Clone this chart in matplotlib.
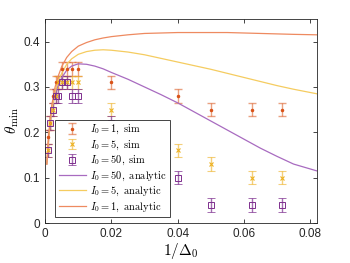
import numpy as np
import matplotlib as mpl
mpl.use('Agg')
import matplotlib.pyplot as plt

# simulation points, x = 1/Delta_0
x_sim = [0.001, 0.0015, 0.0025, 0.0033, 0.004, 0.005, 0.0067, 0.008, 0.01,
         0.02, 0.04, 0.05, 0.0625, 0.0714]
sim_i1 = [0.19, 0.22, 0.28, 0.31, 0.31, 0.34, 0.34, 0.34, 0.34,
          0.31, 0.28, 0.25, 0.25, 0.25]
sim_i5 = [0.16, 0.22, 0.25, 0.28, 0.31, 0.31, 0.31, 0.31, 0.31,
          0.25, 0.16, 0.13, 0.10, 0.10]
sim_i50 = [0.16, 0.22, 0.25, 0.28, 0.28, 0.31, 0.31, 0.28, 0.28,
           0.22, 0.10, 0.04, 0.04, 0.04]
sim_err = 0.015

# analytic curves
x_an = [0.0005, 0.001, 0.0015, 0.002, 0.003, 0.004, 0.005, 0.0065, 0.008, 0.01,
        0.0125, 0.015, 0.0175, 0.02, 0.025, 0.03, 0.035, 0.04, 0.045, 0.05,
        0.055, 0.06, 0.065, 0.07, 0.075, 0.082]
an_i1 = [0.13, 0.19, 0.23, 0.26, 0.30, 0.325, 0.345, 0.365, 0.378, 0.39,
         0.398, 0.404, 0.408, 0.411, 0.415, 0.418, 0.419, 0.42, 0.42, 0.42,
         0.42, 0.419, 0.418, 0.417, 0.416, 0.415]
an_i5 = [0.13, 0.18, 0.22, 0.25, 0.29, 0.315, 0.33, 0.35, 0.362, 0.372,
         0.378, 0.381, 0.382, 0.381, 0.377, 0.371, 0.363, 0.355, 0.347, 0.339,
         0.33, 0.321, 0.312, 0.303, 0.295, 0.285]
an_i50 = [0.13, 0.18, 0.22, 0.25, 0.285, 0.305, 0.32, 0.337, 0.346, 0.351,
          0.350, 0.346, 0.34, 0.332, 0.317, 0.300, 0.283, 0.265, 0.245, 0.225,
          0.205, 0.185, 0.165, 0.147, 0.13, 0.115]

RED = '#D95319'
YEL = '#EDB120'
PUR = '#7E2F8E'

plt.rcParams['mathtext.fontset'] = 'cm'
plt.rcParams['font.family'] = ['Liberation Sans', 'DejaVu Sans']

fig = plt.figure(figsize=(3.5, 2.63), dpi=100)
ax = fig.add_axes([0.129, 0.152, 0.776, 0.776])

h1 = ax.errorbar(x_sim, sim_i1, yerr=sim_err, fmt='.', color=RED, ms=3,
                 ecolor=(0.85, 0.33, 0.10, 0.55), elinewidth=1.0, capsize=3,
                 capthick=1.0, label=r'$I_0=1,\ \mathrm{sim}$')
h2 = ax.errorbar(x_sim, sim_i5, yerr=sim_err, fmt='x', color=YEL, ms=3, mew=0.8,
                 ecolor=(0.93, 0.69, 0.13, 0.6), elinewidth=1.0, capsize=3,
                 capthick=1.0, label=r'$I_0=5,\ \mathrm{sim}$')
h3 = ax.errorbar(x_sim, sim_i50, yerr=sim_err, fmt='s', color=PUR, ms=4,
                 mfc='none', mew=0.7, ecolor=(0.49, 0.18, 0.56, 0.7),
                 elinewidth=1.0, capsize=3, capthick=1.0,
                 label=r'$I_0=50,\ \mathrm{sim}$')

l1, = ax.plot(x_an, an_i50, color='#A86BC0', lw=0.9,
              label=r'$I_0=50,\ \mathrm{analytic}$')
l2, = ax.plot(x_an, an_i5, color='#F5CC60', lw=0.9,
              label=r'$I_0=5,\ \mathrm{analytic}$')
l3, = ax.plot(x_an, an_i1, color='#EE8A60', lw=0.9,
              label=r'$I_0=1,\ \mathrm{analytic}$')

ax.set_xlim(0, 0.082)
ax.set_ylim(0, 0.45)
ax.set_xticks([0, 0.02, 0.04, 0.06, 0.08])
ax.set_xticklabels(['0', '0.02', '0.04', '0.06', '0.08'])
ax.set_yticks([0, 0.1, 0.2, 0.3, 0.4])
ax.set_yticklabels(['0', '0.1', '0.2', '0.3', '0.4'])
ax.tick_params(direction='in', top=True, right=True, labelsize=8.5,
               length=3, width=0.6, colors='#262626')
for s in ax.spines.values():
    s.set_linewidth(0.6)
    s.set_color('#262626')

ax.set_xlabel(r'$1/\Delta_0$', fontsize=11, labelpad=1)
ax.set_ylabel(r'$\theta_{\rm min}$', fontsize=11, labelpad=2)

leg = ax.legend(handles=[h1, h2, h3, l1, l2, l3], loc='lower left',
                bbox_to_anchor=(0.03, 0.02), prop={'size': 7.5},
                fancybox=False, edgecolor='#262626', framealpha=1,
                handlelength=2.6, labelspacing=0.2, borderpad=0.3,
                handletextpad=0.4, borderaxespad=0.2)
leg.get_frame().set_linewidth(0.6)

fig.savefig('out.png', dpi=100)
